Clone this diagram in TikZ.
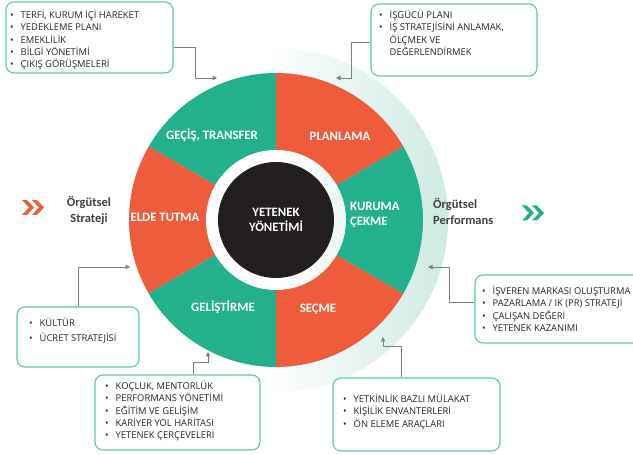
\documentclass[tikz,border=0pt]{standalone}
\usepackage{fontspec}
\setmainfont{Carlito}
\newfontfamily\boxfont{Open Sans}
\usetikzlibrary{arrows.meta}
\definecolor{segG}{HTML}{22B18C}
\definecolor{segO}{HTML}{EF5C3C}
\definecolor{coreK}{HTML}{231F20}
\definecolor{boxG}{HTML}{5EC8A6}
\definecolor{haloC}{HTML}{CFEAE3}
\definecolor{lineG}{HTML}{808080}
\definecolor{txtK}{HTML}{262626}
\definecolor{lblK}{HTML}{404040}
\pgfdeclarehorizontalshading{haloshade}{100bp}{color(0bp)=(white); color(48bp)=(white); color(62bp)=(haloC!50!white); color(75bp)=(haloC); color(100bp)=(haloC)}
\pgfdeclarehorizontalshading{ringshade}{100bp}{color(0bp)=(white); color(50bp)=(white); color(75bp)=(haloC!35!white); color(100bp)=(haloC!35!white)}
\newcommand{\bl}[1]{\makebox[10.5pt][l]{\textbullet}#1}
\newcommand{\nb}[1]{\makebox[10.5pt][l]{}#1}
\begin{document}
\begin{tikzpicture}[x=1pt,y=1pt,
  infobox/.style={draw=boxG, line width=1.1pt, rounded corners=8pt, fill=white, inner sep=0pt},
  itemtext/.style={font=\boxfont\fontsize{9.4}{12.4}\selectfont, text=txtK, inner sep=0pt, anchor=base west},
  seglabel/.style={font=\fontsize{12.8}{15}\selectfont\bfseries, text=white, align=center, inner sep=0pt},
  conn/.style={draw=lineG, line width=0.8pt, -{Triangle[width=4.5pt,length=4.5pt]}},
  sidelabel/.style={font=\fontsize{12.5}{16}\selectfont\bfseries, text=lblK, inner sep=0pt}
]
\useasboundingbox (0,0) rectangle (633,455);
\clip (0,0) rectangle (633,455);

% wheel
\coordinate (c) at (276,235);
\shade[shading=haloshade] (c) circle[radius=172];
\foreach \a/\col in {30/segO, 90/segG, 150/segO, 210/segG, 270/segO, 330/segG}
  \fill[\col] (c) -- ++(\a:147) arc[start angle=\a, end angle=\a+60, radius=147] -- cycle;
\shade[shading=ringshade] (c) circle[radius=70];
\node[circle, fill=coreK, minimum size=116pt, inner sep=0pt, seglabel] (core) at (c) {YETENEK\\YÖNETİMİ};

\node[seglabel] (s1) at (340,319) {PLANLAMA};
\node[seglabel] (s2) at (212,320) {GEÇİŞ, TRANSFER};
\node[seglabel] (s3) at (165,238) {ELDE TUTMA};
\node[seglabel] (s4) at (223,148) {GELİŞTİRME};
\node[seglabel] (s5) at (318,146) {SEÇME};
\node[seglabel, anchor=west, align=left] (s6) at (350,240) {KURUMA\\ÇEKME};

% side labels and chevrons
\node[sidelabel, align=center] (ls) at (89,245) {Örgütsel\\Strateji};
\node[sidelabel, align=left, anchor=west] (rs) at (433,244) {Örgütsel\\Performans};
\foreach \x in {22,32}
  \fill[segO] (\x,255) -- (\x+5,255) -- (\x+12,247.5) -- (\x+5,240) -- (\x,240) -- (\x+7,247.5) -- cycle;
\foreach \x in {522,532}
  \fill[segG] (\x,249.5) -- (\x+5,249.5) -- (\x+12,242) -- (\x+5,234.5) -- (\x,234.5) -- (\x+7,242) -- cycle;

% boxes
\node[infobox, minimum width=167pt, minimum height=71pt] (b1) at (89.5,417.5) {};
\node[infobox, minimum width=166pt, minimum height=72pt] (b2) at (454,415) {};
\node[infobox, minimum width=122pt, minimum height=60pt] (b3) at (78,118) {};
\node[infobox, minimum width=170pt, minimum height=68pt] (b4) at (560,146) {};
\node[infobox, minimum width=165pt, minimum height=75pt] (b5) at (177.5,42.5) {};
\node[infobox, minimum width=167pt, minimum height=73pt] (b6) at (416.5,40.5) {};

\node[itemtext] (t1) at (10,436.7) {\begin{tabular}[t]{@{}l@{}}
\bl{TERFİ, KURUM İÇİ HAREKET}\\ \bl{YEDEKLEME PLANI}\\ \bl{EMEKLİLİK}\\ \bl{BİLGİ YÖNETİMİ}\\ \bl{ÇIKIŞ GÖRÜŞMELERİ}\end{tabular}};
\node[itemtext] (t2) at (379,436.7) {\begin{tabular}[t]{@{}l@{}}
\bl{İŞGÜCÜ PLANI}\\ \bl{İŞ STRATEJİSİNİ ANLAMAK,}\\ \nb{ÖLÇMEK VE}\\ \nb{DEĞERLENDİRMEK}\end{tabular}};
\node[itemtext, font=\boxfont\fontsize{9.4}{15.5}\selectfont] (t3) at (29,128.7) {\begin{tabular}[t]{@{}l@{}}
\bl{KÜLTÜR}\\ \bl{ÜCRET STRATEJİSİ}\end{tabular}};
\node[itemtext] (t4) at (482,160.7) {\begin{tabular}[t]{@{}l@{}}
\bl{İŞVEREN MARKASI OLUŞTURMA}\\ \bl{PAZARLAMA / IK (PR) STRATEJİ}\\ \bl{ÇALIŞAN DEĞERİ}\\ \bl{YETENEK KAZANIMI}\end{tabular}};
\node[itemtext] (t5) at (105,65.7) {\begin{tabular}[t]{@{}l@{}}
\bl{KOÇLUK, MENTORLÜK}\\ \bl{PERFORMANS YÖNETİMİ}\\ \bl{EĞİTİM VE GELİŞİM}\\ \bl{KARİYER YOL HARİTASI}\\ \bl{YETENEK ÇERÇEVELERİ}\end{tabular}};
\node[itemtext] (t6) at (343,52.7) {\begin{tabular}[t]{@{}l@{}}
\bl{YETKİNLİK BAZLI MÜLAKAT}\\ \bl{KİŞİLİK ENVANTERLERİ}\\ \bl{ÖN ELEME ARAÇLARI}\end{tabular}};

% connectors
\coordinate (a1) at (217,377);
\coordinate (a2) at (336,377);
\coordinate (a3) at (130,188);
\coordinate (a4) at (428,188);
\coordinate (a5) at (208,103);
\coordinate (a6) at (383,118);
\draw[conn] ([yshift=-9.5pt]b1.east) -- ++(22,0) |- (a1);
\draw[conn] ([yshift=-2pt]b2.west) -- ++(-19,0) |- (a2);
\draw[conn] (b3.north) |- (a3);
\draw[conn] ([yshift=7pt]b4.west) -- ++(-25,0) |- (a4);
\draw[conn] ([xshift=15.5pt]b5.north) -- ++(0,12) -| (a5);
\draw[conn] ([xshift=-15.5pt]b6.north) -- ++(0,31) -| (a6);
\end{tikzpicture}
\end{document}
